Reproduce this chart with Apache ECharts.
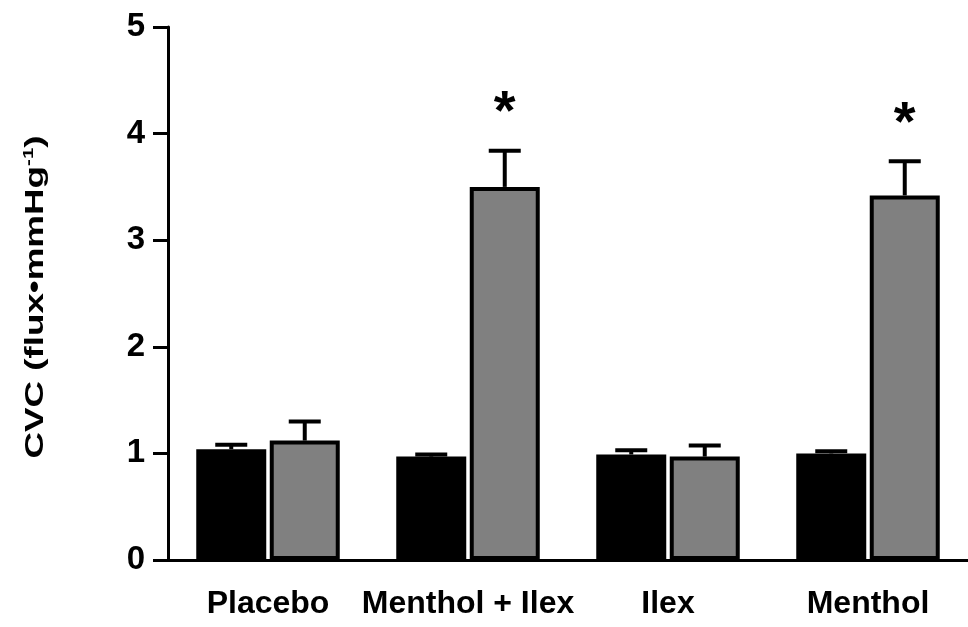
<!DOCTYPE html>
<html>
<head>
<meta charset="utf-8">
<script src="https://cdn.jsdelivr.net/npm/echarts@6/dist/echarts.min.js"></script>
<style>html,body{margin:0;padding:0;background:#fff;}#c{width:968px;height:627px;}</style>
</head>
<body>
<div id="c"></div>
<script>
const categories = ['Placebo', 'Menthol + Ilex', 'Ilex', 'Menthol'];
const blackValues = [1.04, 0.97, 0.99, 1.0];
const blackErrors = [0.04, 0.02, 0.04, 0.02];
const grayValues = [1.12, 3.50, 0.97, 3.42];
const grayErrors = [0.18, 0.34, 0.105, 0.32];
const significance = ['', '*', '', '*'];
const yTicks = [0, 1, 2, 3, 4, 5];
const yTitleMain = 'CVC (flux•mmHg';
const yTitleSup = '-1';
const yTitleEnd = ')';

const FONT = '"Liberation Sans", Arial, sans-serif';
const BAR_W = 70;
const BAR_GAP = 3.5;
const OFFSET = (BAR_W + BAR_GAP) / 2;

function errorRender(values, errors, side, marks) {
  return function (params, api) {
    const i = api.value(0);
    const v = values[i], e = errors[i];
    const base = api.coord([i, v]);
    const top = api.coord([i, v + e]);
    const x = base[0] + side * OFFSET;
    const children = [
      { type: 'line', shape: { x1: x, y1: base[1], x2: x, y2: top[1] }, style: { stroke: '#000', lineWidth: 4 } },
      { type: 'line', shape: { x1: x - 16, y1: top[1], x2: x + 16, y2: top[1] }, style: { stroke: '#000', lineWidth: 4 } }
    ];
    if (marks && marks[i]) {
      children.push({
        type: 'text',
        style: { text: marks[i], x: x, y: top[1] - 48 + 11, align: 'center', verticalAlign: 'middle',
                 font: 'bold 56px ' + FONT, fill: '#000' }
      });
    }
    return { type: 'group', children: children };
  };
}

const chart = echarts.init(document.getElementById('c'));
chart.setOption({
  animation: false,
  backgroundColor: '#fff',
  grid: { left: 168, right: 0, top: 27, bottom: 67, containLabel: false },
  graphic: [{
    type: 'text',
    x: 36, y: 297,
    rotation: Math.PI / 2,
    scaleX: 1.47,
    style: {
      text: '{n|' + yTitleMain + '}{s|' + yTitleSup + '}{n|' + yTitleEnd + '}',
      align: 'center', verticalAlign: 'middle',
      rich: {
        n: { fontFamily: FONT, fontWeight: 'bold', fontSize: 25, fill: '#000' },
        s: { fontFamily: FONT, fontWeight: 'bold', fontSize: 14, fill: '#000', padding: [0, 0, 14, 0] }
      }
    }
  }],
  xAxis: {
    type: 'category',
    data: categories,
    axisLine: { lineStyle: { color: '#000', width: 3 } },
    axisTick: { alignWithLabel: true, length: 13, lineStyle: { color: '#000', width: 4 } },
    axisLabel: { interval: 0, hideOverlap: false, color: '#000', fontFamily: FONT, fontWeight: 'bold', fontSize: 32, margin: 28 },
    splitLine: { show: false }
  },
  yAxis: {
    type: 'value',
    min: 0, max: 5, interval: 1,
    axisLine: { show: true, lineStyle: { color: '#000', width: 3 } },
    axisTick: { show: true, length: 15, lineStyle: { color: '#000', width: 3 } },
    axisLabel: { color: '#000', fontFamily: FONT, fontWeight: 'bold', fontSize: 33, margin: 23,
                 formatter: function (v) { return yTicks.indexOf(v) >= 0 ? String(v) : ''; } },
    splitLine: { show: false }
  },
  series: [
    {
      type: 'bar', data: blackValues, barWidth: BAR_W, barGap: (BAR_GAP / BAR_W * 100) + '%',
      itemStyle: { color: '#000' }, z: 2
    },
    {
      type: 'bar', data: grayValues, barWidth: BAR_W,
      itemStyle: { color: '#808080', borderColor: '#000', borderWidth: 4 }, z: 2
    },
    {
      type: 'custom', data: categories.map((c, i) => [i]), z: 1,
      renderItem: errorRender(blackValues, blackErrors, -1, null)
    },
    {
      type: 'custom', data: categories.map((c, i) => [i]), z: 1,
      renderItem: errorRender(grayValues, grayErrors, 1, significance)
    }
  ]
});
</script>
</body>
</html>
